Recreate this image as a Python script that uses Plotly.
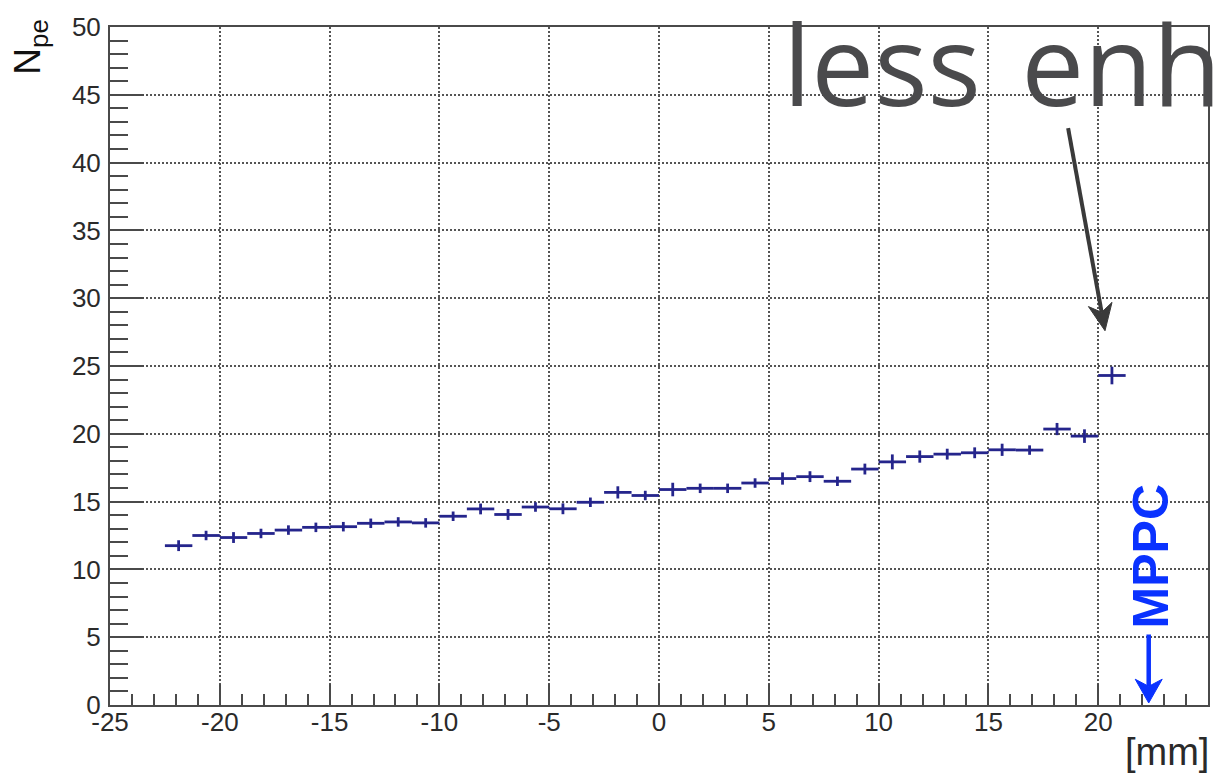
import plotly.graph_objects as go

# Bin centres [mm] (1.25 mm bins) and measured photo-electron yield
bin_width = 1.25
positions = [-21.875, -20.625, -19.375, -18.125, -16.875, -15.625, -14.375,
             -13.125, -11.875, -10.625, -9.375, -8.125, -6.875, -5.625,
             -4.375, -3.125, -1.875, -0.625, 0.625, 1.875, 3.125, 4.375,
             5.625, 6.875, 8.125, 9.375, 10.625, 11.875, 13.125, 14.375,
             15.625, 16.875, 18.125, 19.375, 20.625]
npe = [11.75, 12.5, 12.35, 12.65, 12.9, 13.1, 13.15, 13.4, 13.5, 13.43,
       13.92, 14.46, 14.05, 14.6, 14.47, 14.95, 15.68, 15.45, 15.89, 15.98,
       15.98, 16.37, 16.7, 16.84, 16.5, 17.4, 17.93, 18.32, 18.5, 18.6,
       18.82, 18.8, 20.35, 19.83, 24.3]
npe_err = [0.4, 0.35, 0.4, 0.35, 0.35, 0.35, 0.35, 0.35, 0.35, 0.35,
           0.35, 0.4, 0.4, 0.35, 0.4, 0.35, 0.45, 0.35, 0.5, 0.35,
           0.35, 0.35, 0.45, 0.4, 0.35, 0.4, 0.55, 0.45, 0.4, 0.4,
           0.45, 0.35, 0.45, 0.5, 0.65]

x_ticks = [-25, -20, -15, -10, -5, 0, 5, 10, 15, 20, 25]
y_ticks = [0, 5, 10, 15, 20, 25, 30, 35, 40, 45, 50]
x_range = [-25, 25]
y_range = [0, 50]

# Figure geometry
fig_w, fig_h = 1222, 774
margin = dict(l=110, r=14, t=20, b=69)
plot_w = fig_w - margin["l"] - margin["r"]
plot_h = fig_h - margin["t"] - margin["b"]
px_per_x = plot_w / (x_range[1] - x_range[0])
px_per_y = plot_h / (y_range[1] - y_range[0])

mark_color = "#25258c"
axis_color = "#4a4a4a"
label_font = dict(family="Liberation Sans, Arial, sans-serif", size=26, color="#2a2a2a")


def arrow_shapes(tail, tip, color, width, head_len, head_w):
    """Line plus notched arrowhead in data coordinates (head sized in pixels)."""
    dx = (tip[0] - tail[0]) * px_per_x
    dy = (tip[1] - tail[1]) * px_per_y
    norm = (dx * dx + dy * dy) ** 0.5
    ux, uy = dx / norm, dy / norm
    nx, ny = -uy, ux

    def to_data(px, py):
        return tip[0] + px / px_per_x, tip[1] + py / px_per_y

    back_l = to_data(-head_len * ux + head_w / 2 * nx, -head_len * uy + head_w / 2 * ny)
    back_r = to_data(-head_len * ux - head_w / 2 * nx, -head_len * uy - head_w / 2 * ny)
    notch = to_data(-0.7 * head_len * ux, -0.7 * head_len * uy)
    path = (f"M {tip[0]},{tip[1]} L {back_l[0]},{back_l[1]} "
            f"L {notch[0]},{notch[1]} L {back_r[0]},{back_r[1]} Z")
    return [
        dict(type="line", xref="x", yref="y", x0=tail[0], y0=tail[1],
             x1=notch[0], y1=notch[1], line=dict(color=color, width=width)),
        dict(type="path", xref="x", yref="y", path=path,
             fillcolor=color, line=dict(color=color, width=1)),
    ]


fig = go.Figure()
fig.add_trace(go.Scatter(
    x=positions, y=npe,
    mode="markers",
    marker=dict(size=1, color=mark_color),
    error_x=dict(type="constant", value=bin_width / 2, width=0,
                 thickness=2.8, color=mark_color),
    error_y=dict(type="data", array=npe_err, width=0,
                 thickness=2.8, color=mark_color),
    showlegend=False,
))

grid_kw = dict(showgrid=True, gridcolor="#555555", gridwidth=1.5, griddash="2px,2px")

fig.update_xaxes(
    range=x_range, tickvals=x_ticks, ticktext=[str(v) for v in x_ticks],
    ticks="inside", ticklen=21, tickwidth=2, tickcolor=axis_color,
    minor=dict(dtick=1, ticks="inside", ticklen=11, tickwidth=2,
               tickcolor=axis_color, showgrid=False),
    showline=True, linecolor=axis_color, linewidth=2, mirror=True,
    zeroline=False, tickfont=label_font, ticklabelstandoff=-7,
    **grid_kw,
)
fig.update_yaxes(
    range=y_range, tickvals=y_ticks, ticktext=[str(v) for v in y_ticks],
    ticks="inside", ticklen=34, tickwidth=2, tickcolor=axis_color,
    minor=dict(dtick=1, ticks="inside", ticklen=18, tickwidth=2,
               tickcolor=axis_color, showgrid=False),
    showline=True, linecolor=axis_color, linewidth=2, mirror=True,
    zeroline=False, tickfont=label_font, ticklabelstandoff=2,
    **grid_kw,
)

annotations = [
    # axis titles
    dict(text="N<sub>pe</sub>", xref="paper", yref="paper", x=-0.073, y=1.015,
         xanchor="center", yanchor="top", textangle=-90, showarrow=False,
         font=dict(family="Liberation Sans, Arial, sans-serif", size=37, color="#111111")),
    dict(text="[mm]", xref="paper", yref="paper", x=1.003, y=-0.070,
         xanchor="right", yanchor="middle", showarrow=False,
         font=dict(family="Liberation Sans, Arial, sans-serif", size=38, color="#2a2a2a")),
    # sensor position label
    dict(text="<b>MPPC</b>", xref="x", yref="y", x=22.4, y=10.95,
         xanchor="center", yanchor="middle", textangle=-90, showarrow=False,
         font=dict(family="Liberation Sans, Arial, sans-serif", size=50, color="#0a32ff")),
    # call-out for the last bin
    dict(text="less \u200aenh", xref="paper", yref="paper", x=0.611, y=0.948,
         xanchor="left", yanchor="middle", showarrow=False,
         font=dict(family="Open Sans, sans-serif", size=112, color="#4a4a4c")),
]

shapes = (arrow_shapes((22.3, 5.2), (22.3, 0.15), "#0a32ff", 4.5, 24, 27)
          + arrow_shapes((18.63, 42.55), (20.31, 27.6), "#3a3a3a", 4, 27, 24))

fig.update_layout(
    width=fig_w, height=fig_h,
    margin=margin,
    paper_bgcolor="white", plot_bgcolor="white",
    annotations=annotations,
    shapes=shapes,
)

fig.write_html("out.html")
